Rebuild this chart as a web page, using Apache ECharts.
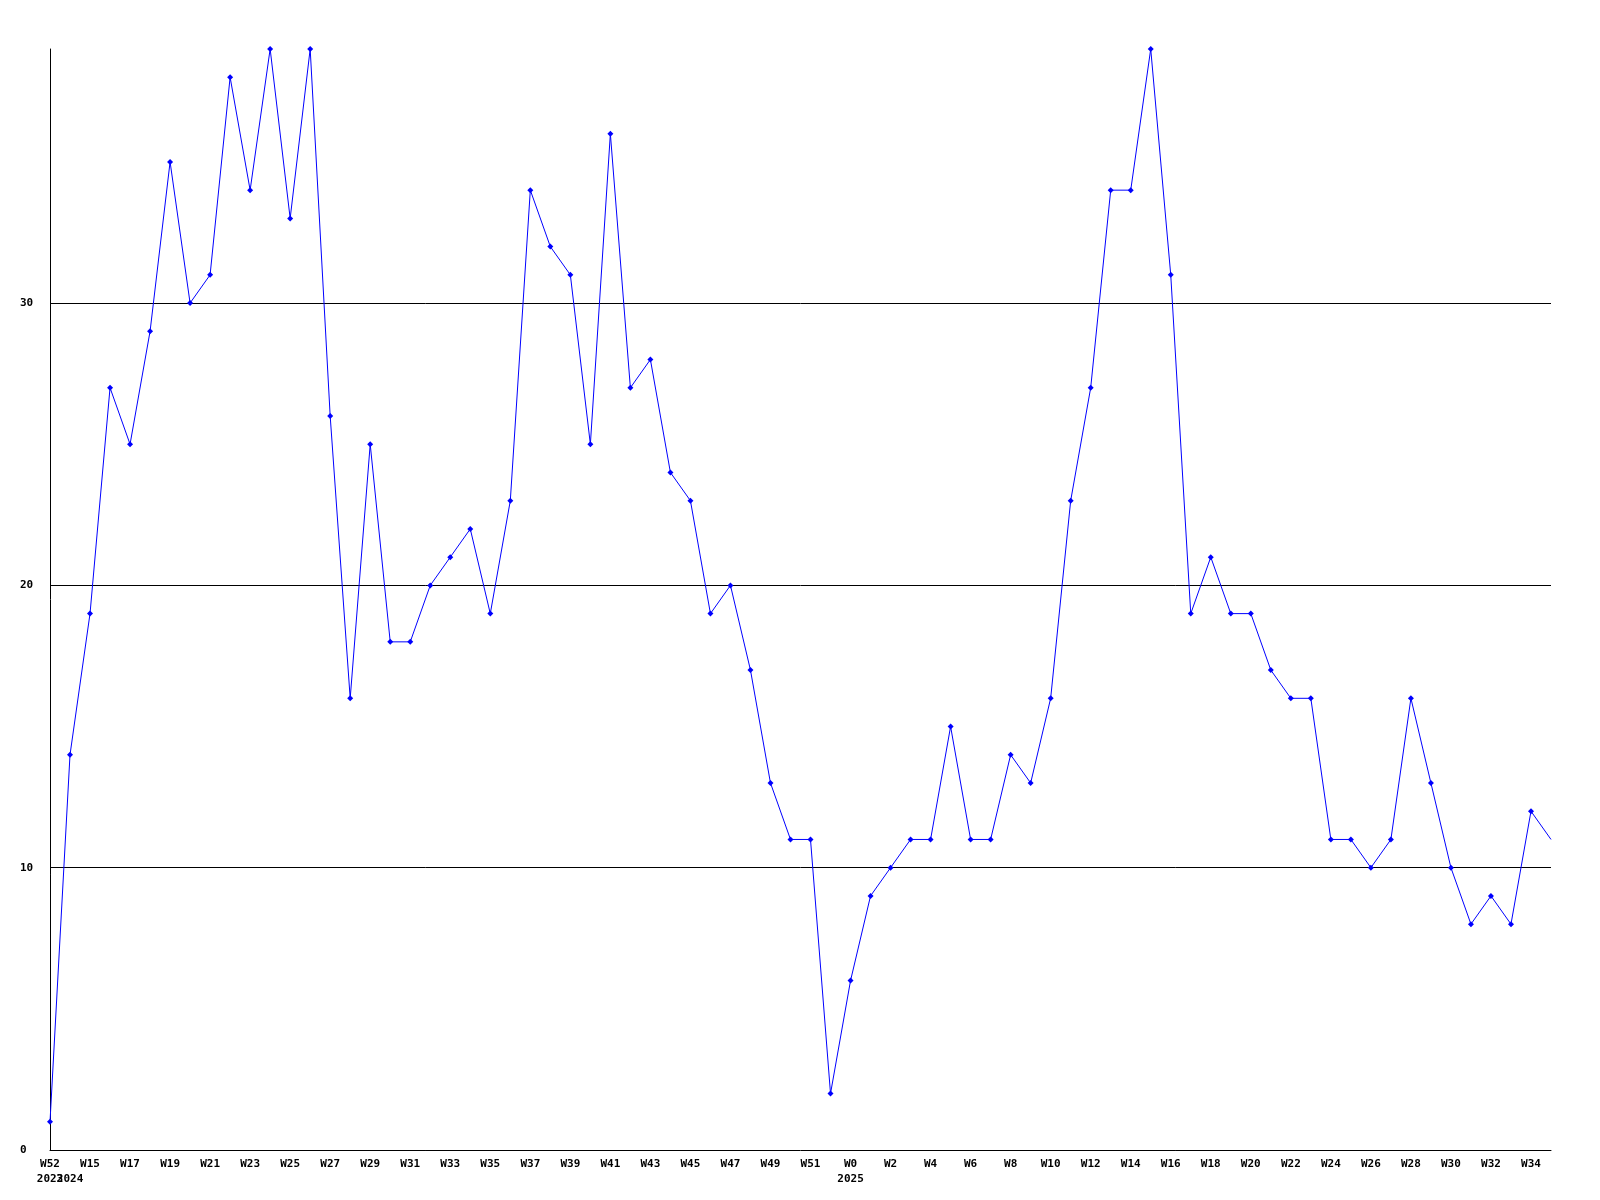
<!DOCTYPE html>
<html>
<head>
<meta charset="utf-8">
<script src="https://cdn.jsdelivr.net/npm/echarts@6/dist/echarts.min.js"></script>
<style>
html,body{margin:0;padding:0;background:#fff;}
#chart{width:1600px;height:1200px;}
</style>
</head>
<body>
<div id="chart"></div>
<script>
const weeks = ["W52","W14","W15","W16","W17","W18","W19","W20","W21","W22","W23","W24","W25","W26","W27","W28","W29","W30","W31","W32","W33","W34","W35","W36","W37","W38","W39","W40","W41","W42","W43","W44","W45","W46","W47","W48","W49","W50","W51","W52","W0","W1","W2","W3","W4","W5","W6","W7","W8","W9","W10","W11","W12","W13","W14","W15","W16","W17","W18","W19","W20","W21","W22","W23","W24","W25","W26","W27","W28","W29","W30","W31","W32","W33","W34","W35"];
const years = {0:"2023",1:"2024",40:"2025"};
const values = [1,14,19,27,25,29,35,30,31,38,34,39,33,39,26,16,25,18,18,20,21,22,19,23,34,32,31,25,36,27,28,24,23,19,20,17,13,11,11,2,6,9,10,11,11,15,11,11,14,13,16,23,27,34,34,39,31,19,21,19,19,17,16,16,11,11,10,11,16,13,10,8,9,8,12,11];
const yTicks = [0,10,20,30];
const gridValues = [10,20,30];

const chart = echarts.init(document.getElementById('chart'));
const font = {fontFamily:'DejaVu Sans Mono', fontSize:11, fontWeight:'bold', color:'#000'};
const seriesData = values.map(function(v,i){
  return i === values.length-1 ? {value:v, symbol:'none'} : v;
});
chart.setOption({
  animation:false,
  backgroundColor:'#fff',
  grid:{left:50,right:49,top:49,bottom:50,containLabel:false},
  xAxis:{
    type:'category',
    data:weeks,
    boundaryGap:false,
    axisLine:{show:true,lineStyle:{color:'#000',width:1}},
    axisTick:{show:false},
    splitLine:{show:false},
    axisLabel:Object.assign({}, font, {
      interval:0,
      margin:7,
      lineHeight:15,
      formatter:function(v,i){
        const w = (i%2===0) ? v : '';
        const y = years[i];
        return y ? (w + '\n' + y) : w;
      }
    })
  },
  yAxis:{
    type:'value',
    min:0,max:39,interval:10,
    axisLine:{show:true,lineStyle:{color:'#000',width:1}},
    axisTick:{show:false},
    splitLine:{show:false},
    axisLabel:Object.assign({}, font, {
      margin:30,
      align:'left',
      formatter:function(v){return yTicks.indexOf(v)>=0 ? String(v) : '';}
    })
  },
  series:[{
    type:'line',
    data:seriesData,
    symbol:'diamond',
    symbolSize:6,
    showAllSymbol:true,
    lineStyle:{color:'#0000ff',width:1},
    itemStyle:{color:'#0000ff'},
    z:3,
    markLine:{
      silent:true,
      symbol:['none','none'],
      label:{show:false},
      lineStyle:{color:'#000',width:1,type:'solid'},
      z:1,
      data:gridValues.map(function(v){return {yAxis:v};})
    }
  }]
});
</script>
</body>
</html>
